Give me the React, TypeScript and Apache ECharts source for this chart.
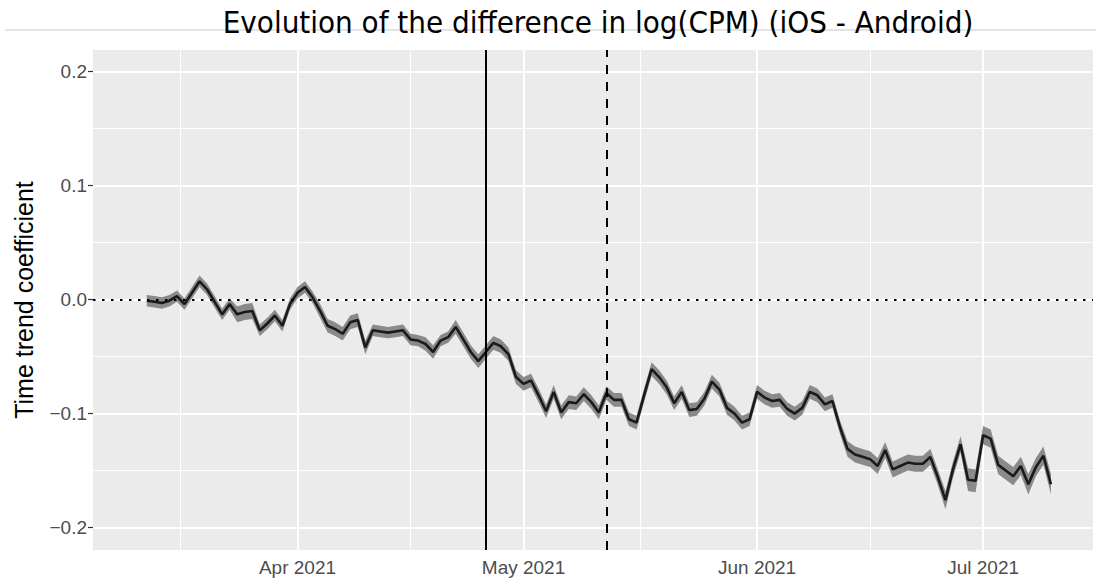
import React, { useEffect, useRef } from 'react';
import * as echarts from 'echarts';

// ---- data ----
const titleText = 'Evolution of the difference in log(CPM) (iOS - Android)';
const yAxisTitle = 'Time trend coefficient';

// daily coefficients, one array per month (first day listed)
const marStart = '2021-03-12';
const marValues = [-0.001, -0.002, -0.003, -0.001, 0.003, -0.004, 0.006, 0.016, 0.009, -0.002, -0.013, -0.004, -0.013, -0.011, -0.010, -0.027, -0.021, -0.014, -0.023, -0.004];
const aprStart = '2021-04-01';
const aprValues = [0.006, 0.011, 0.002, -0.010, -0.023, -0.026, -0.030, -0.020, -0.018, -0.042, -0.027, -0.028, -0.029, -0.028, -0.027, -0.035, -0.036, -0.039, -0.046, -0.036, -0.033, -0.024, -0.035, -0.046, -0.054, -0.046, -0.038, -0.041, -0.048, -0.068];
const mayStart = '2021-05-01';
const mayValues = [-0.074, -0.071, -0.084, -0.098, -0.081, -0.099, -0.090, -0.091, -0.083, -0.090, -0.099, -0.082, -0.088, -0.088, -0.105, -0.108, -0.084, -0.061, -0.068, -0.077, -0.091, -0.081, -0.097, -0.096, -0.087, -0.072, -0.079, -0.095, -0.100, -0.108, -0.105];
const junStart = '2021-06-01';
const junValues = [-0.081, -0.086, -0.089, -0.088, -0.096, -0.100, -0.095, -0.081, -0.084, -0.092, -0.089, -0.112, -0.131, -0.136, -0.138, -0.140, -0.146, -0.132, -0.149, -0.146, -0.143, -0.144, -0.144, -0.138, -0.156, -0.176, -0.149, -0.127, -0.158, -0.159];
const julStart = '2021-07-01';
const julValues = [-0.119, -0.122, -0.145, -0.150, -0.155, -0.146, -0.162, -0.147, -0.137, -0.162];

// half width of the confidence ribbon, same order (Mar 12 .. Jul 10)
const ciHalfWidth = [
  0.005, 0.005, 0.005, 0.005, 0.005, 0.005, 0.005, 0.005, 0.005, 0.005, 0.005, 0.005, 0.007, 0.007, 0.007, 0.005, 0.005, 0.005, 0.005, 0.005,
  0.005, 0.005, 0.005, 0.006, 0.006, 0.006, 0.006, 0.006, 0.006, 0.006, 0.005, 0.005, 0.005, 0.005, 0.005, 0.005, 0.005, 0.006, 0.006, 0.005, 0.005, 0.006, 0.006, 0.006, 0.006, 0.006, 0.006, 0.006, 0.006, 0.006,
  0.006, 0.006, 0.006, 0.006, 0.006, 0.006, 0.006, 0.006, 0.006, 0.006, 0.006, 0.006, 0.006, 0.006, 0.006, 0.006, 0.006, 0.006, 0.006, 0.006, 0.006, 0.006, 0.006, 0.006, 0.006, 0.006, 0.006, 0.006, 0.006, 0.006, 0.006,
  0.006, 0.006, 0.006, 0.006, 0.006, 0.006, 0.006, 0.006, 0.006, 0.006, 0.006, 0.006, 0.007, 0.007, 0.007, 0.007, 0.007, 0.007, 0.007, 0.007, 0.007, 0.007, 0.007, 0.007, 0.007, 0.008, 0.007, 0.007, 0.010, 0.010,
  0.008, 0.008, 0.008, 0.008, 0.008, 0.008, 0.009, 0.008, 0.008, 0.009,
];

const xTickDates = ['2021-04-01', '2021-05-01', '2021-06-01', '2021-07-01'];
const xTickLabels = ['Apr 2021', 'May 2021', 'Jun 2021', 'Jul 2021'];
const xMinorDates = ['2021-03-16T12:00', '2021-04-16T00:00', '2021-05-16T12:00', '2021-06-16T00:00'];
const yTickValues = [-0.2, -0.1, 0, 0.1, 0.2];
const yTickLabels = ['\u22120.2', '\u22120.1', '0.0', '0.1', '0.2'];
const yMinorValues = [-0.15, -0.05, 0.05, 0.15];

const eventDate = '2021-04-26'; // solid vertical line
const secondDate = '2021-05-12'; // dashed vertical line

const xMinDate = '2021-03-04T20:38';
const xMaxDate = '2021-07-15T14:00';
const yMin = -0.2197;
const yMax = 0.2189;

// ---- helpers ----
function toTs(s: string): number {
  const [d, t] = s.split('T');
  const [y, m, dd] = d.split('-').map(Number);
  let hh = 0, mm = 0;
  if (t) { [hh, mm] = t.split(':').map(Number); }
  return Date.UTC(y, m - 1, dd, hh, mm);
}
function seq(start: string, values: number[]): [number, number][] {
  const [y, m, d] = start.split('-').map(Number);
  return values.map((v, i) => [Date.UTC(y, m - 1, d + i), v]);
}

const coef: [number, number][] = [
  ...seq(marStart, marValues),
  ...seq(aprStart, aprValues),
  ...seq(mayStart, mayValues),
  ...seq(junStart, junValues),
  ...seq(julStart, julValues),
];

export default function App() {
  const ref = useRef<HTMLDivElement>(null);
  useEffect(() => {
    if (!ref.current) return;
    const chart = echarts.init(ref.current, undefined, { renderer: 'svg' });
    const ribbon = coef.map(([t, v], i) => [t, v - ciHalfWidth[i], v + ciHalfWidth[i]]);
    const xTicks = xTickDates.map(toTs);
    const font = 'Liberation Sans';

    const gridLines = [
      ...yMinorValues.map((v) => ({ yAxis: v, lineStyle: { color: '#ffffff', width: 1, type: 'solid' } })),
      ...xMinorDates.map((d) => ({ xAxis: toTs(d), lineStyle: { color: '#ffffff', width: 1, type: 'solid' } })),
      ...yTickValues.map((v) => ({ yAxis: v, lineStyle: { color: '#ffffff', width: 2, type: 'solid' } })),
      ...xTicks.map((t) => ({ xAxis: t, lineStyle: { color: '#ffffff', width: 2, type: 'solid' } })),
    ];

    chart.setOption({
      animation: false,
      backgroundColor: '#ffffff',
      grid: { left: 93, right: 3, top: 50, bottom: 33, show: true, backgroundColor: '#ebebeb', borderWidth: 0 },
      xAxis: {
        type: 'value',
        min: toTs(xMinDate),
        max: toTs(xMaxDate),
        axisLine: { show: false },
        axisTick: { show: true, length: 5, customValues: xTicks, lineStyle: { color: '#333333', width: 1.2 } },
        axisLabel: {
          customValues: xTicks,
          color: '#4d4d4d',
          fontSize: 19,
          fontFamily: font,
          margin: 8,
          formatter: (v: number) => {
            const i = xTicks.findIndex((t) => Math.abs(t - v) < 3600000);
            return i >= 0 ? xTickLabels[i] : '';
          },
        },
        splitLine: { show: false },
      },
      yAxis: {
        type: 'value',
        min: yMin,
        max: yMax,
        axisLine: { show: false },
        axisTick: { show: true, length: 5, customValues: yTickValues, lineStyle: { color: '#333333', width: 1.2 } },
        axisLabel: {
          customValues: yTickValues,
          color: '#4d4d4d',
          fontSize: 19,
          fontFamily: font,
          margin: 6,
          formatter: (v: number) => {
            const i = yTickValues.findIndex((t) => Math.abs(t - v) < 1e-9);
            return i >= 0 ? yTickLabels[i] : '';
          },
        },
        splitLine: { show: false },
      },
      graphic: [
        { type: 'line', z: 1, shape: { x1: 5, y1: 30, x2: 1096, y2: 30 }, style: { stroke: '#c8c8c8', lineWidth: 1 } },
        {
          type: 'text', z: 2, x: 598, y: 22,
          style: { text: titleText, fontSize: 31, fontFamily: 'DejaVu Sans Condensed', fill: '#000000', align: 'center', verticalAlign: 'middle' },
        },
        {
          type: 'text', x: 24, y: 300, rotation: Math.PI / 2,
          style: { text: yAxisTitle, fontSize: 25, fontFamily: font, fill: '#000000', align: 'center', verticalAlign: 'middle' },
        },
      ],
      series: [
        {
          name: 'grid', type: 'line', data: [coef[0]], symbol: 'none', silent: true, z: 1,
          lineStyle: { opacity: 0, width: 0 },
          markLine: { z: 1, silent: true, symbol: ['none', 'none'], label: { show: false }, animation: false, data: gridLines },
        },
        {
          name: 'ribbon', type: 'custom', z: 2, silent: true,
          data: ribbon,
          encode: { x: 0, y: [1, 2] },
          renderItem: (params: any, api: any) => {
            if (params.dataIndex !== 0) return null;
            const upper = ribbon.map((r) => api.coord([r[0], r[2]]));
            const lower = ribbon.map((r) => api.coord([r[0], r[1]])).reverse();
            return {
              type: 'polygon',
              shape: { points: upper.concat(lower) },
              style: { fill: '#8a8a8a', stroke: 'none' },
            };
          },
        },
        {
          name: 'coef', type: 'line', data: coef, symbol: 'none', silent: true, z: 3,
          lineStyle: { color: '#1a1a1a', width: 2.6 },
          markLine: {
            z: 4, silent: true, symbol: ['none', 'none'], label: { show: false }, animation: false,
            data: [
              { yAxis: 0, lineStyle: { color: '#000000', width: 2, type: [2.5, 6.5] } },
              { xAxis: toTs(eventDate), lineStyle: { color: '#000000', width: 2, type: 'solid' } },
              { xAxis: toTs(secondDate), lineStyle: { color: '#000000', width: 2, type: [9, 8] } },
            ],
          },
        },
      ],
    });
    return () => chart.dispose();
  }, []);
  return <div ref={ref} style={{ position: 'fixed', left: 0, top: 0, width: 1096, height: 583 }} />;
}
